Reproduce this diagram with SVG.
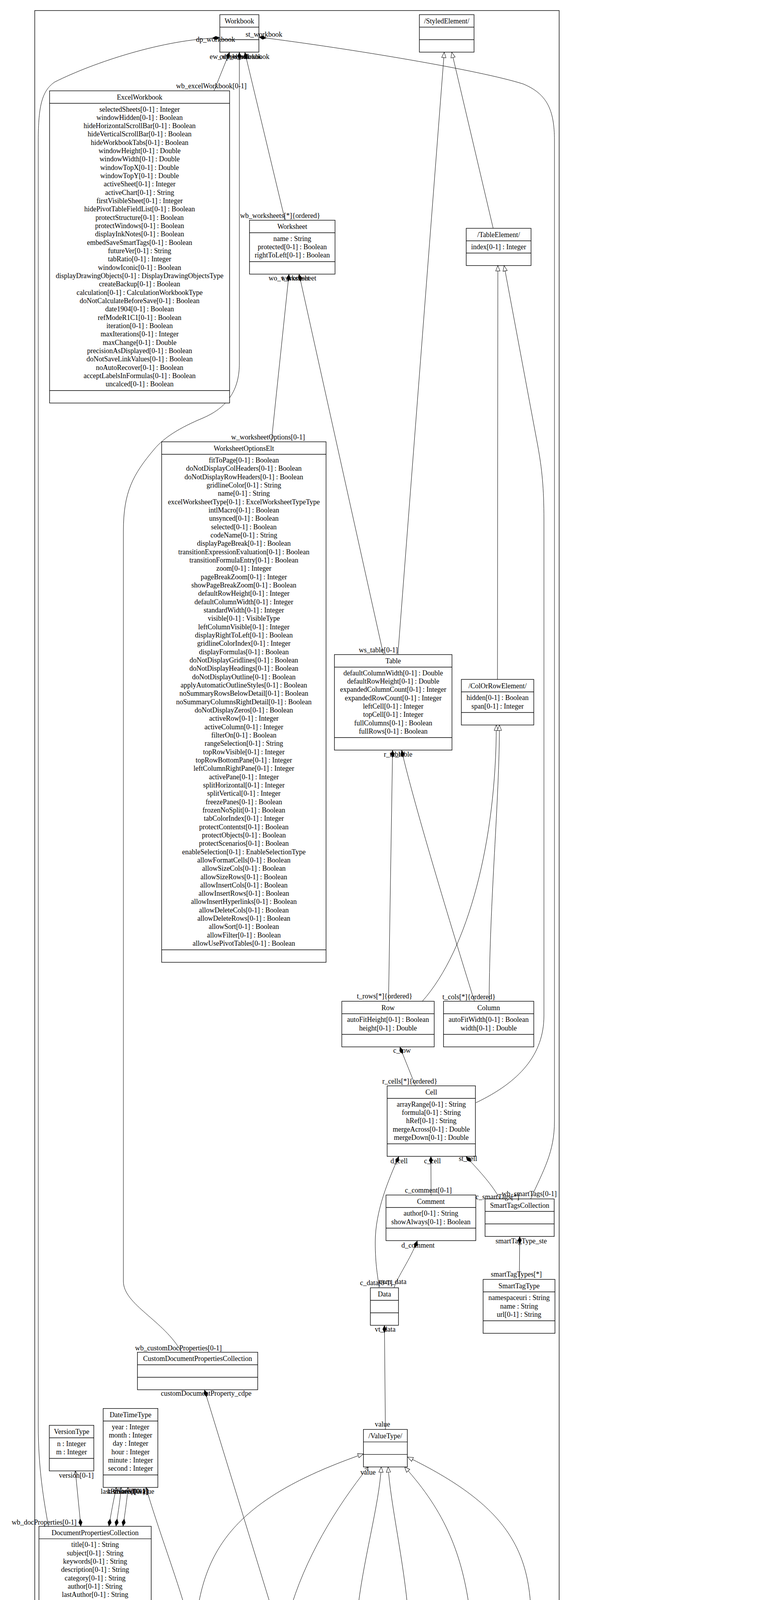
<svg xmlns="http://www.w3.org/2000/svg" width="1995" height="4509" viewBox="0 0 1995 4509">
<style>
.bg{fill:#fff}
.frame{fill:none;stroke:#000;stroke-width:1.4}
.box{fill:#fff;stroke:#000;stroke-width:1.4}
.sep{stroke:#000;stroke-width:1.4}
text{font-family:"Liberation Serif","Times New Roman",serif;font-size:18px;fill:#000}
.c{text-anchor:middle}
.e{fill:none;stroke:#000;stroke-width:1}
.d{marker-start:url(#dia)}
.g{marker-end:url(#gen)}
.a{marker-end:url(#arr)}
</style>
<defs>
<marker id="dia" markerUnits="userSpaceOnUse" viewBox="0 -6 22 12" refX="0" refY="0" markerWidth="22" markerHeight="12" orient="auto">
<path d="M0,0 L10,-5 L20,0 L10,5 Z" fill="#000"/>
</marker>
<marker id="gen" markerUnits="userSpaceOnUse" viewBox="-16 -7 17 14" refX="0" refY="0" markerWidth="17" markerHeight="14" orient="auto">
<path d="M0,0 L-14,-5.5 L-14,5.5 Z" fill="#fff" stroke="#000" stroke-width="1"/>
</marker>
<marker id="arr" markerUnits="userSpaceOnUse" viewBox="-12 -6 13 12" refX="0" refY="0" markerWidth="13" markerHeight="12" orient="auto">
<path d="M-10,-4.5 L0,0 L-10,4.5" fill="none" stroke="#000" stroke-width="1"/>
</marker>
</defs>
<rect class="bg" x="0" y="0" width="1995" height="4509"/>

<g id="package-SpreadsheetMLWorksheetOpt">
<rect class="frame" x="89" y="27" width="1343" height="4470"/>
<text x="98" y="4482">SpreadsheetMLWorksheetOpt</text>
</g>

<g id="package-PrimitiveTypes">
<rect class="frame" x="1438" y="4126" width="544" height="138"/>
<text x="1448.5" y="4255">PrimitiveTypes</text>
</g>

<g id="connectors">
<path class="e d" d="M588,133.5 L548,232.5"/>
<path class="e d" d="M613,133.5 L613,930 C613,990 590,1040 520,1070 C460,1095 420,1120 395,1150 C340,1215 316,1260 316,1360 L316,3280 C316,3340 420,3380 465,3461.7"/>
<path class="e d" d="M627,133.5 L730,563.7"/>
<path class="e d" d="M563,97 C420,100 240,160 140,210 C108,232 98,270 98,360 L98,3650 C98,3760 112,3840 124,3907.4"/>
<path class="e d" d="M663,95 C900,125 1230,180 1340,215 C1400,240 1420,280 1420,360 L1420,2870 C1420,2950 1392,2995 1359,3069.3"/>
<path class="e d" d="M740,701.7 L695,1131"/>
<path class="e d" d="M766,701.7 L982,1675.7"/>
<path class="e d" d="M1005.4,1920.3 L995,2563.3"/>
<path class="e d" d="M1028.5,1920.3 C1060,2060 1170,2420 1215,2563.3"/>
<path class="e d" d="M1024,2680 L1064,2779.7"/>
<path class="e d" d="M1021.5,2960.3 C995,3020 961,3100 961,3180 C961,3240 968,3270 971,3296.7"/>
<path class="e d" d="M1103.5,2960.3 L1104,3059.3"/>
<path class="e d" d="M1193,2960.3 C1230,3000 1262,3035 1280,3069.3"/>
<path class="e d" d="M1069,3176 C1050,3225 1020,3265 1009,3296.7"/>
<path class="e d" d="M1331,3165.3 L1330,3275.3"/>
<path class="e d" d="M984.5,3392.7 L987,3659.4"/>
<path class="e d" d="M523.6,3557.7 L700,4131.8"/>
<path class="e d a" d="M207,3907.4 L193,3765.5"/>
<path class="e d a" d="M279,3907.4 C285,3870 293,3830 298,3807.7"/>
<path class="e d a" d="M297,3907.4 C303,3870 309,3830 310,3807.7"/>
<path class="e d a" d="M315,3907.4 C321,3870 326,3830 328,3807.7"/>
<path class="e d a" d="M478,4131.8 C460,4060 400,3900 374,3807.7"/>
<path class="e d a" d="M740,4131.8 C780,3990 860,3860 943.5,3755"/>
<path class="e g" d="M1263,584.5 L1157,133.5"/>
<path class="e g" d="M1019,1675.7 L1137.7,133.5"/>
<path class="e g" d="M1274,1739.3 L1275,679.8"/>
<path class="e g" d="M1218.8,2823 C1330,2770 1393,2700 1393,2600 L1393,1330 C1393,1250 1388,1200 1377,1140 L1291,679.8"/>
<path class="e g" d="M1081.5,2563.3 C1200,2430 1271,2150 1271,1856"/>
<path class="e g" d="M1252.7,2563.3 C1254,2300 1279,2050 1279,1856"/>
<path class="e g" d="M504.4,4131.8 C530,3950 620,3830 930.7,3722"/>
<path class="e g" d="M915,4131.8 C928,4000 972,3850 976.3,3755"/>
<path class="e g" d="M1045.3,4131.8 C1035,4000 1000,3850 994,3755"/>
<path class="e g" d="M1204,4131.8 C1185,3980 1140,3870 1036,3755"/>
<path class="e g" d="M1359.9,4131.8 C1355,3960 1290,3850 1043.9,3730"/>
</g>

<g id="Workbook">
<rect class="box" x="563" y="37.5" width="100" height="96"/>
<line class="sep" x1="563" y1="69.5" x2="663" y2="69.5"/>
<line class="sep" x1="563" y1="101.5" x2="663" y2="101.5"/>
<text class="c" x="613" y="60">Workbook</text>
</g>

<g id="StyledElement">
<rect class="box" x="1074" y="37.5" width="140" height="96"/>
<line class="sep" x1="1074" y1="69.5" x2="1214" y2="69.5"/>
<line class="sep" x1="1074" y1="101.5" x2="1214" y2="101.5"/>
<text class="c" x="1144" y="60">/StyledElement/</text>
</g>

<g id="ExcelWorkbook">
<rect class="box" x="127" y="232.5" width="461" height="799.2"/>
<line class="sep" x1="127" y1="264.5" x2="588" y2="264.5"/>
<line class="sep" x1="127" y1="999.7" x2="588" y2="999.7"/>
<text class="c" x="357.5" y="255">ExcelWorkbook</text>
<text class="c" x="357.5" y="285.5"><tspan x="357.5">selectedSheets[0-1] : Integer</tspan><tspan x="357.5" dy="21.33">windowHidden[0-1] : Boolean</tspan><tspan x="357.5" dy="21.33">hideHorizontalScrollBar[0-1] : Boolean</tspan><tspan x="357.5" dy="21.33">hideVerticalScrollBar[0-1] : Boolean</tspan><tspan x="357.5" dy="21.33">hideWorkbookTabs[0-1] : Boolean</tspan><tspan x="357.5" dy="21.33">windowHeight[0-1] : Double</tspan><tspan x="357.5" dy="21.33">windowWidth[0-1] : Double</tspan><tspan x="357.5" dy="21.33">windowTopX[0-1] : Double</tspan><tspan x="357.5" dy="21.33">windowTopY[0-1] : Double</tspan><tspan x="357.5" dy="21.33">activeSheet[0-1] : Integer</tspan><tspan x="357.5" dy="21.33">activeChart[0-1] : String</tspan><tspan x="357.5" dy="21.33">firstVisibleSheet[0-1] : Integer</tspan><tspan x="357.5" dy="21.33">hidePivotTableFieldList[0-1] : Boolean</tspan><tspan x="357.5" dy="21.33">protectStructure[0-1] : Boolean</tspan><tspan x="357.5" dy="21.33">protectWindows[0-1] : Boolean</tspan><tspan x="357.5" dy="21.33">displayInkNotes[0-1] : Boolean</tspan><tspan x="357.5" dy="21.33">embedSaveSmartTags[0-1] : Boolean</tspan><tspan x="357.5" dy="21.33">futureVer[0-1] : String</tspan><tspan x="357.5" dy="21.33">tabRatio[0-1] : Integer</tspan><tspan x="357.5" dy="21.33">windowIconic[0-1] : Boolean</tspan><tspan x="357.5" dy="21.33">displayDrawingObjects[0-1] : DisplayDrawingObjectsType</tspan><tspan x="357.5" dy="21.33">createBackup[0-1] : Boolean</tspan><tspan x="357.5" dy="21.33">calculation[0-1] : CalculationWorkbookType</tspan><tspan x="357.5" dy="21.33">doNotCalculateBeforeSave[0-1] : Boolean</tspan><tspan x="357.5" dy="21.33">date1904[0-1] : Boolean</tspan><tspan x="357.5" dy="21.33">refModeR1C1[0-1] : Boolean</tspan><tspan x="357.5" dy="21.33">iteration[0-1] : Boolean</tspan><tspan x="357.5" dy="21.33">maxIterations[0-1] : Integer</tspan><tspan x="357.5" dy="21.33">maxChange[0-1] : Double</tspan><tspan x="357.5" dy="21.33">precisionAsDisplayed[0-1] : Boolean</tspan><tspan x="357.5" dy="21.33">doNotSaveLinkValues[0-1] : Boolean</tspan><tspan x="357.5" dy="21.33">noAutoRecover[0-1] : Boolean</tspan><tspan x="357.5" dy="21.33">acceptLabelsInFormulas[0-1] : Boolean</tspan><tspan x="357.5" dy="21.33">uncalced[0-1] : Boolean</tspan></text>
</g>

<g id="Worksheet">
<rect class="box" x="639" y="563.7" width="219" height="138"/>
<line class="sep" x1="639" y1="595.7" x2="858" y2="595.7"/>
<line class="sep" x1="639" y1="669.7" x2="858" y2="669.7"/>
<text class="c" x="748.5" y="586.2">Worksheet</text>
<text class="c" x="748.5" y="616.7"><tspan x="748.5">name : String</tspan><tspan x="748.5" dy="21.33">protected[0-1] : Boolean</tspan><tspan x="748.5" dy="21.33">rightToLeft[0-1] : Boolean</tspan></text>
</g>

<g id="TableElement">
<rect class="box" x="1194" y="584.5" width="166" height="95.3"/>
<line class="sep" x1="1194" y1="616.5" x2="1360" y2="616.5"/>
<line class="sep" x1="1194" y1="647.8" x2="1360" y2="647.8"/>
<text class="c" x="1277" y="607">/TableElement/</text>
<text class="c" x="1277" y="637.5">index[0-1] : Integer</text>
</g>

<g id="WorksheetOptionsElt">
<rect class="box" x="414" y="1131" width="421" height="1332.5"/>
<line class="sep" x1="414" y1="1163" x2="835" y2="1163"/>
<line class="sep" x1="414" y1="2431.5" x2="835" y2="2431.5"/>
<text class="c" x="624.5" y="1153.5">WorksheetOptionsElt</text>
<text class="c" x="624.5" y="1184"><tspan x="624.5">fitToPage[0-1] : Boolean</tspan><tspan x="624.5" dy="21.33">doNotDisplayColHeaders[0-1] : Boolean</tspan><tspan x="624.5" dy="21.33">doNotDisplayRowHeaders[0-1] : Boolean</tspan><tspan x="624.5" dy="21.33">gridlineColor[0-1] : String</tspan><tspan x="624.5" dy="21.33">name[0-1] : String</tspan><tspan x="624.5" dy="21.33">excelWorksheetType[0-1] : ExcelWorksheetTypeType</tspan><tspan x="624.5" dy="21.33">intlMacro[0-1] : Boolean</tspan><tspan x="624.5" dy="21.33">unsynced[0-1] : Boolean</tspan><tspan x="624.5" dy="21.33">selected[0-1] : Boolean</tspan><tspan x="624.5" dy="21.33">codeName[0-1] : String</tspan><tspan x="624.5" dy="21.33">displayPageBreak[0-1] : Boolean</tspan><tspan x="624.5" dy="21.33">transitionExpressionEvaluation[0-1] : Boolean</tspan><tspan x="624.5" dy="21.33">transitionFormulaEntry[0-1] : Boolean</tspan><tspan x="624.5" dy="21.33">zoom[0-1] : Integer</tspan><tspan x="624.5" dy="21.33">pageBreakZoom[0-1] : Integer</tspan><tspan x="624.5" dy="21.33">showPageBreakZoom[0-1] : Boolean</tspan><tspan x="624.5" dy="21.33">defaultRowHeight[0-1] : Integer</tspan><tspan x="624.5" dy="21.33">defaultColumnWidth[0-1] : Integer</tspan><tspan x="624.5" dy="21.33">standardWidth[0-1] : Integer</tspan><tspan x="624.5" dy="21.33">visible[0-1] : VisibleType</tspan><tspan x="624.5" dy="21.33">leftColumnVisible[0-1] : Integer</tspan><tspan x="624.5" dy="21.33">displayRightToLeft[0-1] : Boolean</tspan><tspan x="624.5" dy="21.33">gridlineColorIndex[0-1] : Integer</tspan><tspan x="624.5" dy="21.33">displayFormulas[0-1] : Boolean</tspan><tspan x="624.5" dy="21.33">doNotDisplayGridlines[0-1] : Boolean</tspan><tspan x="624.5" dy="21.33">doNotDisplayHeadings[0-1] : Boolean</tspan><tspan x="624.5" dy="21.33">doNotDisplayOutline[0-1] : Boolean</tspan><tspan x="624.5" dy="21.33">applyAutomaticOutlineStyles[0-1] : Boolean</tspan><tspan x="624.5" dy="21.33">noSummaryRowsBelowDetail[0-1] : Boolean</tspan><tspan x="624.5" dy="21.33">noSummaryColumnsRightDetail[0-1] : Boolean</tspan><tspan x="624.5" dy="21.33">doNotDisplayZeros[0-1] : Boolean</tspan><tspan x="624.5" dy="21.33">activeRow[0-1] : Integer</tspan><tspan x="624.5" dy="21.33">activeColumn[0-1] : Integer</tspan><tspan x="624.5" dy="21.33">filterOn[0-1] : Boolean</tspan><tspan x="624.5" dy="21.33">rangeSelection[0-1] : String</tspan><tspan x="624.5" dy="21.33">topRowVisible[0-1] : Integer</tspan><tspan x="624.5" dy="21.33">topRowBottomPane[0-1] : Integer</tspan><tspan x="624.5" dy="21.33">leftColumnRightPane[0-1] : Integer</tspan><tspan x="624.5" dy="21.33">activePane[0-1] : Integer</tspan><tspan x="624.5" dy="21.33">splitHorizontal[0-1] : Integer</tspan><tspan x="624.5" dy="21.33">splitVertical[0-1] : Integer</tspan><tspan x="624.5" dy="21.33">freezePanes[0-1] : Boolean</tspan><tspan x="624.5" dy="21.33">frozenNoSplit[0-1] : Boolean</tspan><tspan x="624.5" dy="21.33">tabColorIndex[0-1] : Integer</tspan><tspan x="624.5" dy="21.33">protectContentst[0-1] : Boolean</tspan><tspan x="624.5" dy="21.33">protectObjects[0-1] : Boolean</tspan><tspan x="624.5" dy="21.33">protectScenarios[0-1] : Boolean</tspan><tspan x="624.5" dy="21.33">enableSelection[0-1] : EnableSelectionType</tspan><tspan x="624.5" dy="21.33">allowFormatCells[0-1] : Boolean</tspan><tspan x="624.5" dy="21.33">allowSizeCols[0-1] : Boolean</tspan><tspan x="624.5" dy="21.33">allowSizeRows[0-1] : Boolean</tspan><tspan x="624.5" dy="21.33">allowInsertCols[0-1] : Boolean</tspan><tspan x="624.5" dy="21.33">allowInsertRows[0-1] : Boolean</tspan><tspan x="624.5" dy="21.33">allowInsertHyperlinks[0-1] : Boolean</tspan><tspan x="624.5" dy="21.33">allowDeleteCols[0-1] : Boolean</tspan><tspan x="624.5" dy="21.33">allowDeleteRows[0-1] : Boolean</tspan><tspan x="624.5" dy="21.33">allowSort[0-1] : Boolean</tspan><tspan x="624.5" dy="21.33">allowFilter[0-1] : Boolean</tspan><tspan x="624.5" dy="21.33">allowUsePivotTables[0-1] : Boolean</tspan></text>
</g>

<g id="Table">
<rect class="box" x="856.5" y="1675.7" width="301" height="244.6"/>
<line class="sep" x1="856.5" y1="1707.7" x2="1157.5" y2="1707.7"/>
<line class="sep" x1="856.5" y1="1888.3" x2="1157.5" y2="1888.3"/>
<text class="c" x="1007" y="1698.2">Table</text>
<text class="c" x="1007" y="1728.7"><tspan x="1007">defaultColumnWidth[0-1] : Double</tspan><tspan x="1007" dy="21.33">defaultRowHeight[0-1] : Double</tspan><tspan x="1007" dy="21.33">expandedColumnCount[0-1] : Integer</tspan><tspan x="1007" dy="21.33">expandedRowCount[0-1] : Integer</tspan><tspan x="1007" dy="21.33">leftCell[0-1] : Integer</tspan><tspan x="1007" dy="21.33">topCell[0-1] : Integer</tspan><tspan x="1007" dy="21.33">fullColumns[0-1] : Boolean</tspan><tspan x="1007" dy="21.33">fullRows[0-1] : Boolean</tspan></text>
</g>

<g id="ColOrRowElement">
<rect class="box" x="1181.5" y="1739.3" width="185.5" height="116.7"/>
<line class="sep" x1="1181.5" y1="1771.3" x2="1367" y2="1771.3"/>
<line class="sep" x1="1181.5" y1="1824" x2="1367" y2="1824"/>
<text class="c" x="1274.3" y="1761.8">/ColOrRowElement/</text>
<text class="c" x="1274.3" y="1792.3"><tspan x="1274.3">hidden[0-1] : Boolean</tspan><tspan x="1274.3" dy="21.33">span[0-1] : Integer</tspan></text>
</g>

<g id="Row">
<rect class="box" x="875.4" y="2563.3" width="236.6" height="116.7"/>
<line class="sep" x1="875.4" y1="2595.3" x2="1112" y2="2595.3"/>
<line class="sep" x1="875.4" y1="2648" x2="1112" y2="2648"/>
<text class="c" x="993.7" y="2585.8">Row</text>
<text class="c" x="993.7" y="2616.3"><tspan x="993.7">autoFitHeight[0-1] : Boolean</tspan><tspan x="993.7" dy="21.33">height[0-1] : Double</tspan></text>
</g>

<g id="Column">
<rect class="box" x="1135.8" y="2563.3" width="231.2" height="116.7"/>
<line class="sep" x1="1135.8" y1="2595.3" x2="1367" y2="2595.3"/>
<line class="sep" x1="1135.8" y1="2648" x2="1367" y2="2648"/>
<text class="c" x="1251.4" y="2585.8">Column</text>
<text class="c" x="1251.4" y="2616.3"><tspan x="1251.4">autoFitWidth[0-1] : Boolean</tspan><tspan x="1251.4" dy="21.33">width[0-1] : Double</tspan></text>
</g>

<g id="Cell">
<rect class="box" x="991.5" y="2779.7" width="226" height="180.6"/>
<line class="sep" x1="991.5" y1="2811.7" x2="1217.5" y2="2811.7"/>
<line class="sep" x1="991.5" y1="2928.3" x2="1217.5" y2="2928.3"/>
<text class="c" x="1104.5" y="2802.2">Cell</text>
<text class="c" x="1104.5" y="2832.7"><tspan x="1104.5">arrayRange[0-1] : String</tspan><tspan x="1104.5" dy="21.33">formula[0-1] : String</tspan><tspan x="1104.5" dy="21.33">hRef[0-1] : String</tspan><tspan x="1104.5" dy="21.33">mergeAcross[0-1] : Double</tspan><tspan x="1104.5" dy="21.33">mergeDown[0-1] : Double</tspan></text>
</g>

<g id="Comment">
<rect class="box" x="988.5" y="3059.3" width="230" height="116.7"/>
<line class="sep" x1="988.5" y1="3091.3" x2="1218.5" y2="3091.3"/>
<line class="sep" x1="988.5" y1="3144" x2="1218.5" y2="3144"/>
<text class="c" x="1103.5" y="3081.8">Comment</text>
<text class="c" x="1103.5" y="3112.3"><tspan x="1103.5">author[0-1] : String</tspan><tspan x="1103.5" dy="21.33">showAlways[0-1] : Boolean</tspan></text>
</g>

<g id="SmartTagsCollection">
<rect class="box" x="1242.3" y="3069.3" width="177" height="96"/>
<line class="sep" x1="1242.3" y1="3101.3" x2="1419.3" y2="3101.3"/>
<line class="sep" x1="1242.3" y1="3133.3" x2="1419.3" y2="3133.3"/>
<text class="c" x="1330.8" y="3091.8">SmartTagsCollection</text>
</g>

<g id="Data">
<rect class="box" x="948.5" y="3296.7" width="72" height="96"/>
<line class="sep" x1="948.5" y1="3328.7" x2="1020.5" y2="3328.7"/>
<line class="sep" x1="948.5" y1="3360.7" x2="1020.5" y2="3360.7"/>
<text class="c" x="984.5" y="3319.2">Data</text>
</g>

<g id="SmartTagType">
<rect class="box" x="1237.3" y="3275.3" width="184" height="138"/>
<line class="sep" x1="1237.3" y1="3307.3" x2="1421.3" y2="3307.3"/>
<line class="sep" x1="1237.3" y1="3381.3" x2="1421.3" y2="3381.3"/>
<text class="c" x="1329.3" y="3297.8">SmartTagType</text>
<text class="c" x="1329.3" y="3328.3"><tspan x="1329.3">namespaceuri : String</tspan><tspan x="1329.3" dy="21.33">name : String</tspan><tspan x="1329.3" dy="21.33">url[0-1] : String</tspan></text>
</g>

<g id="CustomDocumentPropertiesCollection">
<rect class="box" x="352" y="3461.7" width="308" height="96"/>
<line class="sep" x1="352" y1="3493.7" x2="660" y2="3493.7"/>
<line class="sep" x1="352" y1="3525.7" x2="660" y2="3525.7"/>
<text class="c" x="506" y="3484.2">CustomDocumentPropertiesCollection</text>
</g>

<g id="VersionType">
<rect class="box" x="126.3" y="3648.8" width="114" height="116.7"/>
<line class="sep" x1="126.3" y1="3680.8" x2="240.3" y2="3680.8"/>
<line class="sep" x1="126.3" y1="3733.5" x2="240.3" y2="3733.5"/>
<text class="c" x="183.3" y="3671.3">VersionType</text>
<text class="c" x="183.3" y="3701.8"><tspan x="183.3">n : Integer</tspan><tspan x="183.3" dy="21.33">m : Integer</tspan></text>
</g>

<g id="DateTimeType">
<rect class="box" x="264.3" y="3605.7" width="140" height="202"/>
<line class="sep" x1="264.3" y1="3637.7" x2="404.3" y2="3637.7"/>
<line class="sep" x1="264.3" y1="3775.7" x2="404.3" y2="3775.7"/>
<text class="c" x="334.3" y="3628.2">DateTimeType</text>
<text class="c" x="334.3" y="3658.7"><tspan x="334.3">year : Integer</tspan><tspan x="334.3" dy="21.33">month : Integer</tspan><tspan x="334.3" dy="21.33">day : Integer</tspan><tspan x="334.3" dy="21.33">hour : Integer</tspan><tspan x="334.3" dy="21.33">minute : Integer</tspan><tspan x="334.3" dy="21.33">second : Integer</tspan></text>
</g>

<g id="ValueType">
<rect class="box" x="930.7" y="3659.4" width="112.5" height="96"/>
<line class="sep" x1="930.7" y1="3691.4" x2="1043.2" y2="3691.4"/>
<line class="sep" x1="930.7" y1="3723.4" x2="1043.2" y2="3723.4"/>
<text class="c" x="986.9" y="3681.9">/ValueType/</text>
</g>

<g id="DocumentPropertiesCollection">
<rect class="box" x="99.7" y="3907.4" width="287.6" height="543.3"/>
<line class="sep" x1="99.7" y1="3939.4" x2="387.3" y2="3939.4"/>
<line class="sep" x1="99.7" y1="4418.7" x2="387.3" y2="4418.7"/>
<text class="c" x="243.5" y="3929.9">DocumentPropertiesCollection</text>
<text class="c" x="243.5" y="3960.4"><tspan x="243.5">title[0-1] : String</tspan><tspan x="243.5" dy="21.33">subject[0-1] : String</tspan><tspan x="243.5" dy="21.33">keywords[0-1] : String</tspan><tspan x="243.5" dy="21.33">description[0-1] : String</tspan><tspan x="243.5" dy="21.33">category[0-1] : String</tspan><tspan x="243.5" dy="21.33">author[0-1] : String</tspan><tspan x="243.5" dy="21.33">lastAuthor[0-1] : String</tspan><tspan x="243.5" dy="21.33">manager[0-1] : String</tspan><tspan x="243.5" dy="21.33">company[0-1] : String</tspan><tspan x="243.5" dy="21.33">hyperlinkBase[0-1] : String</tspan><tspan x="243.5" dy="21.33">revision[0-1] : Integer</tspan><tspan x="243.5" dy="21.33">presentationFormat[0-1] : String</tspan><tspan x="243.5" dy="21.33">guid[0-1] : String</tspan><tspan x="243.5" dy="21.33">appName[0-1] : String</tspan><tspan x="243.5" dy="21.33">totalTime[0-1] : Integer</tspan><tspan x="243.5" dy="21.33">pages[0-1] : Integer</tspan><tspan x="243.5" dy="21.33">words[0-1] : Integer</tspan><tspan x="243.5" dy="21.33">characters[0-1] : Integer</tspan><tspan x="243.5" dy="21.33">charactersWithSpaces[0-1] : Integer</tspan><tspan x="243.5" dy="21.33">bytes[0-1] : Integer</tspan><tspan x="243.5" dy="21.33">lines[0-1] : Integer</tspan><tspan x="243.5" dy="21.33">paragraphs[0-1] : Integer</tspan></text>
</g>

<g id="DateTimeTypeValue">
<rect class="box" x="412" y="4131.8" width="176" height="96"/>
<line class="sep" x1="412" y1="4163.8" x2="588" y2="4163.8"/>
<line class="sep" x1="412" y1="4195.8" x2="588" y2="4195.8"/>
<text class="c" x="500" y="4154.3">DateTimeTypeValue</text>
</g>

<g id="CustomDocumentProperty">
<rect class="box" x="609.7" y="4131.8" width="220" height="96"/>
<line class="sep" x1="609.7" y1="4163.8" x2="829.7" y2="4163.8"/>
<line class="sep" x1="609.7" y1="4195.8" x2="829.7" y2="4195.8"/>
<text class="c" x="719.7" y="4154.3">CustomDocumentProperty</text>
<text class="c" x="719.7" y="4184.8">name : String</text>
</g>

<g id="ErrorValue">
<rect class="box" x="854.6" y="4131.8" width="104" height="96"/>
<line class="sep" x1="854.6" y1="4163.8" x2="958.6" y2="4163.8"/>
<line class="sep" x1="854.6" y1="4195.8" x2="958.6" y2="4195.8"/>
<text class="c" x="906.6" y="4154.3">ErrorValue</text>
</g>

<g id="BooleanValue">
<rect class="box" x="983.4" y="4131.8" width="139" height="96"/>
<line class="sep" x1="983.4" y1="4163.8" x2="1122.4" y2="4163.8"/>
<line class="sep" x1="983.4" y1="4195.8" x2="1122.4" y2="4195.8"/>
<text class="c" x="1052.9" y="4154.3">BooleanValue</text>
<text class="c" x="1052.9" y="4184.8">value : Boolean</text>
</g>

<g id="NumberValue">
<rect class="box" x="1147" y="4131.8" width="132.5" height="96"/>
<line class="sep" x1="1147" y1="4163.8" x2="1279.5" y2="4163.8"/>
<line class="sep" x1="1147" y1="4195.8" x2="1279.5" y2="4195.8"/>
<text class="c" x="1213.3" y="4154.3">NumberValue</text>
<text class="c" x="1213.3" y="4184.8">value : Double</text>
</g>

<g id="StringValue">
<rect class="box" x="1302.2" y="4131.8" width="122" height="96"/>
<line class="sep" x1="1302.2" y1="4163.8" x2="1424.2" y2="4163.8"/>
<line class="sep" x1="1302.2" y1="4195.8" x2="1424.2" y2="4195.8"/>
<text class="c" x="1363.2" y="4154.3">StringValue</text>
<text class="c" x="1363.2" y="4184.8">value : String</text>
</g>

<g id="Double">
<rect class="box" x="1448.5" y="4136.7" width="112.5" height="84.6"/>
<line class="sep" x1="1448.5" y1="4189.3" x2="1561" y2="4189.3"/>
<text class="c" x="1504.8" y="4159">«DataType»</text>
<text class="c" x="1504.8" y="4181">Double</text>
</g>

<g id="Boolean">
<rect class="box" x="1585" y="4136.7" width="112.7" height="84.6"/>
<line class="sep" x1="1585" y1="4189.3" x2="1697.7" y2="4189.3"/>
<text class="c" x="1641.4" y="4159">«DataType»</text>
<text class="c" x="1641.4" y="4181">Boolean</text>
</g>

<g id="String">
<rect class="box" x="1721.8" y="4136.7" width="112.5" height="84.6"/>
<line class="sep" x1="1721.8" y1="4189.3" x2="1834.3" y2="4189.3"/>
<text class="c" x="1778" y="4159">«DataType»</text>
<text class="c" x="1778" y="4181">String</text>
</g>

<g id="Integer">
<rect class="box" x="1858.4" y="4136.7" width="112.6" height="84.6"/>
<line class="sep" x1="1858.4" y1="4189.3" x2="1971" y2="4189.3"/>
<text class="c" x="1914.7" y="4159">«DataType»</text>
<text class="c" x="1914.7" y="4181">Integer</text>
</g>

<g id="connector-labels">
<text x="502" y="106.7">dp_workbook</text>
<text x="629" y="94.3">st_workbook</text>
<text x="537" y="151">ew_workbook</text>
<text x="562" y="151">cdp_workbook</text>
<text x="588" y="151">ws_workbook</text>
<text x="451" y="226">wb_excelWorkbook[0-1]</text>
<text x="615" y="558">wb_worksheets[*]{ordered}</text>
<text x="688" y="718">wo_worksheet</text>
<text x="722" y="718">t_worksheet</text>
<text x="592" y="1125">w_worksheetOptions[0-1]</text>
<text x="919" y="1670">ws_table[0-1]</text>
<text x="983" y="1937">r_table</text>
<text x="1004" y="1937">c_table</text>
<text x="914" y="2556">t_rows[*]{ordered}</text>
<text x="1133" y="2558">t_cols[*]{ordered}</text>
<text x="1007" y="2695">c_row</text>
<text x="979" y="2774">r_cells[*]{ordered}</text>
<text x="1000" y="2978">d_cell</text>
<text x="1086" y="2978">c_cell</text>
<text x="1175" y="2972">st_cell</text>
<text x="1037" y="3053">c_comment[0-1]</text>
<text x="1218" y="3070">c_smartTags[*]</text>
<text x="1285" y="3062">wb_smartTags[0-1]</text>
<text x="1028" y="3194">d_comment</text>
<text x="1269" y="3183">smartTagType_ste</text>
<text x="922" y="3290">c_data[0-1]</text>
<text x="971" y="3287">com_data</text>
<text x="1257" y="3268">smartTagTypes[*]</text>
<text x="960" y="3409">vt_data</text>
<text x="346" y="3457">wb_customDocProperties[0-1]</text>
<text x="412" y="3573">customDocumentProperty_cdpe</text>
<text x="960" y="3652">value</text>
<text x="923" y="3775">value</text>
<text x="151" y="3783">version[0-1]</text>
<text x="258" y="3824">lastPrinted[0-1]</text>
<text x="290" y="3824">created[0-1]</text>
<text x="275" y="3824">lastSaved[0-1]</text>
<text x="356" y="3824">value</text>
<text x="30" y="3903">wb_docProperties[0-1]</text>
<text x="574" y="4126">customDocumentProperties[1-*]</text>
</g>
</svg>
